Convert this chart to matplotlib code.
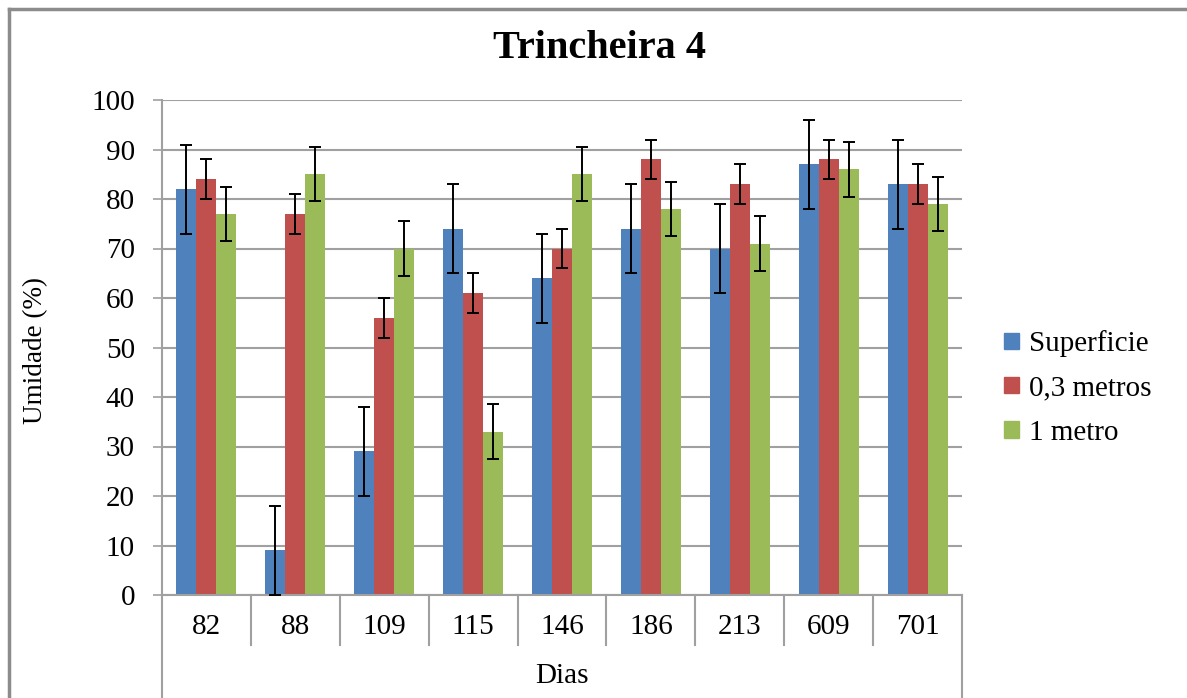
import matplotlib
matplotlib.use("Agg")
import matplotlib.pyplot as plt
import numpy as np
from matplotlib.lines import Line2D
from matplotlib.patches import Patch

plt.rcParams['font.family'] = ['Liberation Serif', 'DejaVu Serif']

categories = ['82', '88', '109', '115', '146', '186', '213', '609', '701']
series_names = ['Superficie', '0,3 metros', '1 metro']
superficie = [82, 9, 29, 74, 64, 74, 70, 87, 83]
metros_03 = [84, 77, 56, 61, 70, 88, 83, 88, 83]
metro_1 = [77, 85, 70, 33, 85, 78, 71, 86, 79]
err_superficie = [9, 9, 9, 9, 9, 9, 9, 9, 9]
err_03 = [4, 4, 4, 4, 4, 4, 4, 4, 4]
err_1 = [5.5, 5.5, 5.5, 5.5, 5.5, 5.5, 5.5, 5.5, 5.5]
colors = ['#4F81BD', '#C0504D', '#9BBB59']

W, H = 1187, 698
FS = 21
fig = plt.figure(figsize=(W / 100, H / 100), dpi=100)
ax = fig.add_axes([162 / W, 1 - 595 / H, 800 / W, 495 / H])

x = np.arange(len(categories))
bw = 0.225
data = [superficie, metros_03, metro_1]
errs = [err_superficie, err_03, err_1]
for i, (vals, e, c, name) in enumerate(zip(data, errs, colors, series_names)):
    ax.bar(x + (i - 1) * bw, vals, width=bw, color=c, label=name, zorder=2)
    ax.errorbar(x + (i - 1) * bw, vals, yerr=e, fmt='none', ecolor='black',
                elinewidth=1.4, capsize=4.3, capthick=1.4, zorder=3)

ax.set_xlim(-0.5, len(categories) - 0.5)
ax.set_ylim(0, 100)
ax.set_yticks(range(0, 101, 10))
ax.yaxis.grid(True, color='#A0A0A0', linewidth=1.5, zorder=0)
ax.set_axisbelow(True)
for s in ['top', 'right']:
    ax.spines[s].set_visible(False)
ax.spines['left'].set_color('#A0A0A0')
ax.spines['bottom'].set_color('#A0A0A0')
ax.spines['left'].set_linewidth(1.5)
ax.spines['bottom'].set_linewidth(1.5)
ax.tick_params(axis='y', direction='out', length=6.5, width=1.2, color='#A0A0A0',
               labelsize=FS, pad=13)
ax.set_xticks([])

# category separators (Excel-style)
sep_len = 50 / 495
for k in range(1, len(categories)):
    ax.add_line(Line2D([k - 0.5, k - 0.5], [0, -sep_len], transform=ax.get_xaxis_transform(),
                       color='#A0A0A0', lw=1.5, clip_on=False))
for xe in [-0.5, len(categories) - 0.5]:
    ax.add_line(Line2D([xe, xe], [0, -0.21], transform=ax.get_xaxis_transform(),
                       color='#A0A0A0', lw=1.5, clip_on=False))
for k, lab in enumerate(categories):
    ax.text(k, -32 / 495, lab, transform=ax.get_xaxis_transform(), ha='center', va='center',
            fontsize=FS)
ax.text(0.5, -81 / 495, 'Dias', transform=ax.transAxes, ha='center', va='center', fontsize=FS)

fig.text(36 / W, 1 - 350 / H, 'Umidade (%)', rotation=90, ha='center', va='center',
         fontsize=19.5)

fig.text(600 / W, 1 - 48 / H, 'Trincheira 4', ha='center', va='center', fontsize=29,
         fontweight='bold')

handles = [Patch(color=c) for c in colors]
fig.legend(handles, series_names, loc='center left', bbox_to_anchor=(978 / W, 1 - 388 / H),
           frameon=False, fontsize=FS, handlelength=0.5, handleheight=0.5,
           handletextpad=0.35, labelspacing=0.62)

# outer border
fig.add_artist(Line2D([9 / W, 9 / W], [0, 1 - 9 / H], transform=fig.transFigure,
                      color='#8C8C8C', lw=2.5))
fig.add_artist(Line2D([9 / W, 1], [1 - 9 / H, 1 - 9 / H], transform=fig.transFigure,
                      color='#8C8C8C', lw=2.5))

fig.savefig('out.png', dpi=100)
